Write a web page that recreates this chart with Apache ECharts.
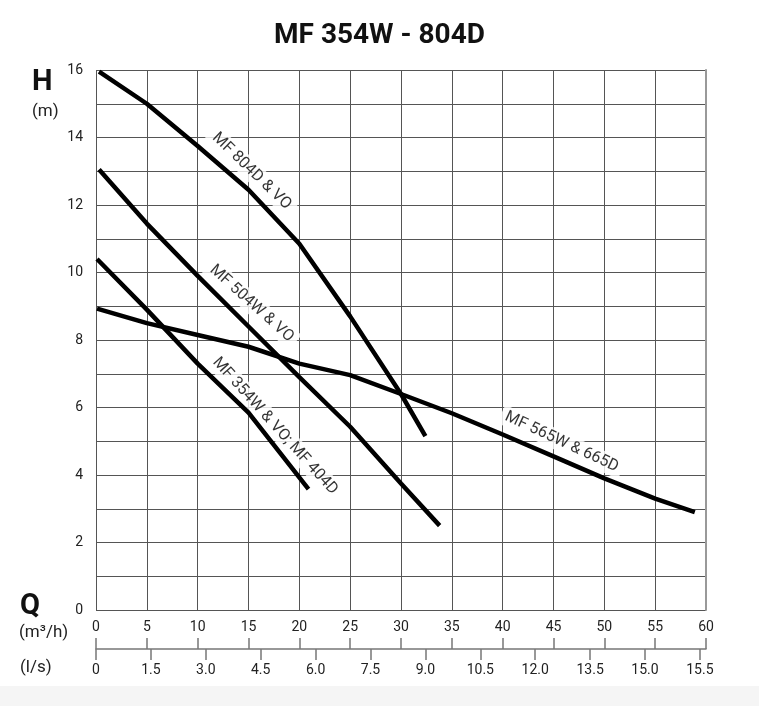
<!DOCTYPE html>
<html>
<head>
<meta charset="utf-8">
<title>MF 354W - 804D</title>
<script src="https://cdn.jsdelivr.net/npm/echarts@6/dist/echarts.min.js"></script>
<style>
  html, body { margin: 0; padding: 0; background: #fff; }
  #chart { width: 759px; height: 706px; }
</style>
</head>
<body>
<div id="chart"></div>
<script>
// curves: [Q (m3/h), H (m)]
const curve804D = [[0.3, 15.95], [5, 15.0], [10, 13.75], [15, 12.45], [20, 10.85], [25, 8.7], [30, 6.4], [32.4, 5.15]]
const curve504W = [[0.3, 13.05], [5, 11.45], [10, 9.9], [15, 8.4], [20, 6.9], [25, 5.43], [30, 3.75], [33.8, 2.5]]
const curve354W = [[0.1, 10.4], [5, 8.9], [10, 7.3], [15, 5.85], [20.9, 3.58]]
const curve565W = [[0.1, 8.93], [5, 8.5], [10, 8.15], [15, 7.8], [20, 7.3], [25, 6.96], [30, 6.4], [35, 5.83], [40, 5.2], [45, 4.55], [50, 3.9], [55, 3.3], [58.9, 2.9]]

const curveNames = ['MF 804D & VO', 'MF 504W & VO', 'MF 354W & VO; MF 404D', 'MF 565W & 665D']
const curves = [curve804D, curve504W, curve354W, curve565W]

// where each curve name sits, in data units, and its slant
const labelAnchors = [[15.3, 13.0], [15.3, 9.08], [17.6, 5.45], [45.8, 4.98]]
const labelAngles = [-44, -42, -48, -25]

// secondary flow scale in l/s (ticks as printed on the sheet)
const lsTicks = [0, 1.5, 3.0, 4.5, 6.0, 7.5, 9.0, 10.5, 12.0, 13.5, 15.0, 16.5]
const lsLabels = ['0', '1.5', '3.0', '4.5', '6.0', '7.5', '9.0', '10.5', '12.0', '13.5', '15.0', '15.5']

const chart = echarts.init(document.getElementById('chart'))
const font = 'Roboto, "Noto Sans", sans-serif'

const lineSeries = curves.map((data, i) => ({
  name: curveNames[i],
  type: 'line',
  data: data,
  symbol: 'none',
  z: 4,
  lineStyle: { color: '#000', width: 4.5, cap: 'butt' }
}))

// curve names, white box cuts the grid like on the sheet
const labelSeries = {
  type: 'scatter',
  symbolSize: 0,
  z: 2,
  silent: true,
  data: labelAnchors.map((p, i) => ({
    value: p,
    label: { rotate: labelAngles[i], formatter: curveNames[i] }
  })),
  label: {
    show: true,
    position: 'inside',
    color: '#000',
    fontFamily: font,
    fontSize: 16,
    backgroundColor: '#fff',
    padding: [2, 5]
  }
}

chart.setOption({
  backgroundColor: '#fff',
  animation: false,
  title: {
    text: 'MF 354W - 804D',
    left: 'center',
    top: 17,
    textStyle: { fontFamily: font, fontSize: 28, fontWeight: 'bold', color: '#111' }
  },
  graphic: [
    { type: 'rect', shape: { x: 0, y: 686, width: 759, height: 20 }, style: { fill: '#f5f5f5' } },
    { type: 'text', left: 32, top: 68, style: { text: 'H', font: 'bold 29px ' + font, fill: '#111' } },
    { type: 'text', left: 32, top: 103, style: { text: '(m)', font: '17px ' + font, fill: '#222' } },
    { type: 'text', left: 20, top: 592, style: { text: 'Q', font: 'bold 29px ' + font, fill: '#111' } },
    { type: 'text', left: 19, top: 624, style: { text: '(m³/h)', font: '17px ' + font, fill: '#222' } },
    { type: 'text', left: 20, top: 659, style: { text: '(l/s)', font: '17px ' + font, fill: '#222' } }
  ],
  grid: [
    { left: 96, right: 53, top: 70, bottom: 96 },
    { left: 96, right: 53, top: 648, height: 1 }
  ],
  xAxis: [
    {
      type: 'value', gridIndex: 0, min: 0, max: 60, interval: 5,
      axisLine: { show: false },
      axisTick: { show: false },
      axisLabel: { show: false },
      splitLine: { lineStyle: { color: '#555', width: 1 } }
    },
    {
      type: 'value', gridIndex: 1, position: 'top', min: 0, max: 60, interval: 5,
      axisLine: { show: true, lineStyle: { color: '#777', width: 1.5 } },
      axisTick: { show: true, length: 11, lineStyle: { color: '#777', width: 1.5 } },
      axisLabel: { margin: 14, color: '#222', fontFamily: font, fontSize: 14 },
      splitLine: { show: false }
    },
    {
      type: 'value', gridIndex: 1, position: 'bottom', min: 0, max: 60 / 3.6,
      axisLine: { show: false },
      axisTick: { show: true, length: 11, customValues: lsTicks, lineStyle: { color: '#777', width: 1.5 } },
      axisLabel: {
        margin: 14, color: '#222', fontFamily: font, fontSize: 14,
        customValues: lsTicks,
        formatter: (v) => lsLabels[lsTicks.indexOf(v)] ?? ''
      },
      splitLine: { show: false }
    }
  ],
  yAxis: [
    {
      type: 'value', gridIndex: 0, min: 0, max: 16, interval: 1,
      axisLine: { show: false },
      axisTick: { show: false },
      axisLabel: {
        margin: 13, color: '#222', fontFamily: font, fontSize: 14,
        formatter: (v) => (v % 2 === 0 ? String(v) : '')
      },
      splitLine: { lineStyle: { color: '#555', width: 1 } }
    },
    { type: 'value', gridIndex: 1, show: false },
    {
      // light grey right edge of the frame
      type: 'value', gridIndex: 0, position: 'right', min: 0, max: 16,
      axisLine: { show: true, lineStyle: { color: '#999', width: 2 } },
      axisTick: { show: false },
      axisLabel: { show: false },
      splitLine: { show: false }
    }
  ],
  series: [...lineSeries, labelSeries]
})
</script>
</body>
</html>
